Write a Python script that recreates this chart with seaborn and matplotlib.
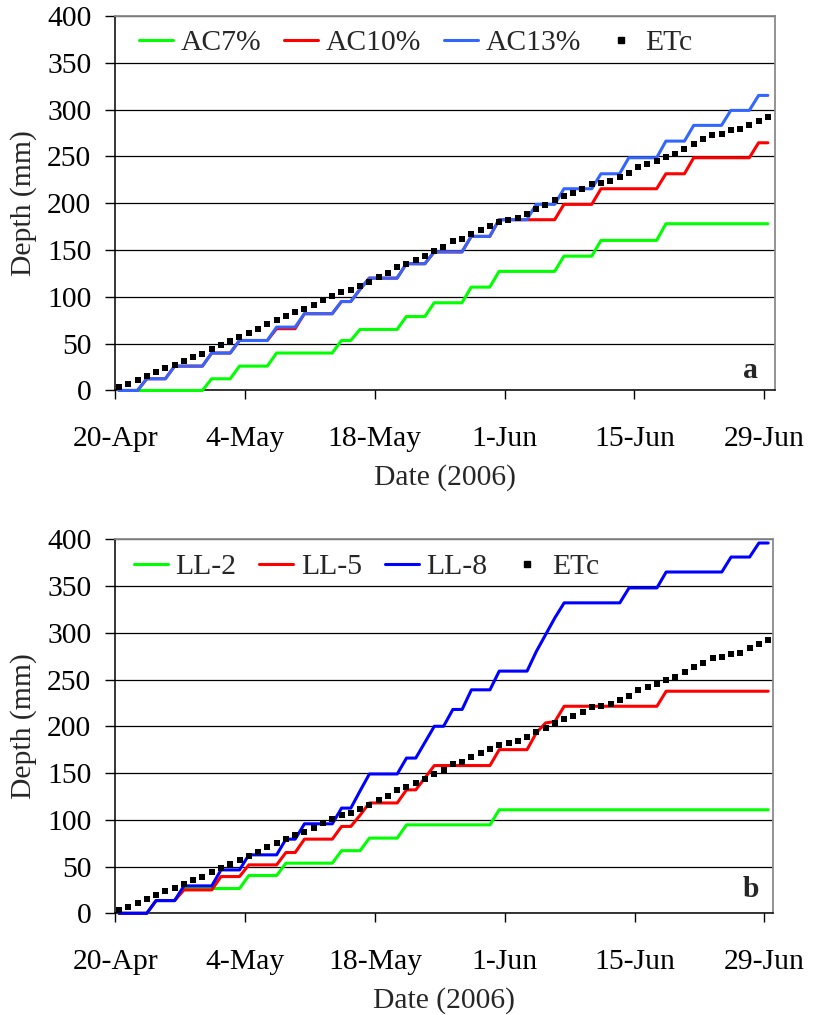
import numpy as np
import pandas as pd
import matplotlib
matplotlib.use("Agg")
import matplotlib.pyplot as plt
from matplotlib.lines import Line2D
import seaborn as sns

# ---- data -----------------------------------------------------------------
# Days after 20 April 2006 (daily records 0..70)
days = np.arange(71)
date_ticks = [0, 14, 28, 42, 56, 70]
date_labels = ["20-Apr", "4-May", "18-May", "1-Jun", "15-Jun", "29-Jun"]

# Cumulative crop evapotranspiration (mm), one value per day
etc = [3.6, 6.4, 10.7, 15.0, 19.6, 23.9, 26.7, 31.3, 36.0, 39.2, 43.8, 48.1,
       52.4, 57.0, 61.6, 65.9, 70.5, 74.8, 79.8, 83.7, 87.3, 91.5, 96.2, 100.8,
       105.0, 106.9, 111.5, 115.8, 121.1, 125.7, 131.8, 135.4, 139.6, 143.9,
       148.9, 153.2, 159.6, 162.1, 166.7, 171.0, 175.2, 179.9, 181.7, 184.5,
       188.8, 194.1, 198.4, 203.0, 207.3, 211.2, 215.5, 220.8, 222.0, 223.3,
       228.0, 232.2, 238.6, 242.2, 244.7, 249.3, 252.9, 258.2, 263.6, 268.2,
       273.2, 274.3, 277.8, 278.9, 283.2, 287.8, 292.4]

# Irrigation events: day of application and cumulative depth applied (mm)
ac7_days = [10, 13, 17, 24, 26, 31, 34, 38, 41, 48, 52, 59]
ac7_depth = [12.5, 26, 40, 53.4, 65.2, 79, 93.7, 110.4, 127.2, 143.5, 160.3, 178.1]

ac10_days = [3, 6, 10, 13, 17, 20, 24, 26, 27, 31, 34, 38, 41, 48, 52, 59, 62, 69]
ac10_depth = [12.5, 26, 40, 53.4, 66, 82, 95, 108, 120, 135.4, 148, 164.6,
              182.4, 198.8, 215.5, 231.5, 248.6, 264.6]

ac13_days = [3, 6, 10, 13, 17, 20, 24, 26, 27, 31, 34, 38, 41, 45, 48, 52, 55,
             59, 62, 66, 69]
ac13_depth = [12.5, 26, 40, 53.4, 67.7, 82, 95, 108, 120, 135.4, 148, 164.6,
              182.4, 198.8, 215.5, 231.5, 248.6, 266.4, 283.2, 299.2, 315.2]

ll2_days = [4, 7, 14, 18, 24, 27, 31, 41]
ll2_depth = [13.6, 26.5, 40.4, 53.6, 67, 80.4, 94.6, 110.7]

ll5_days = [4, 7, 11, 14, 18, 20, 24, 26, 27, 31, 33, 34, 41, 45, 46, 47, 48, 59]
ll5_depth = [13.6, 25, 39.3, 51.8, 65, 79.3, 92.9, 105, 118, 132, 145, 158,
             175, 193, 203.6, 205, 221.4, 237.5]

ll8_days = [4, 7, 11, 14, 18, 20, 24, 26, 27, 31, 33, 34, 36, 38, 41, 45, 46,
            47, 48, 55, 59, 66, 69]
ll8_depth = [13.6, 29.3, 46.4, 62.5, 79.3, 95.7, 112.5, 131, 149, 166, 183, 200,
             218, 239, 259, 280, 298, 316, 332, 348, 365, 381, 396]

names_a = ["AC7%", "AC10%", "AC13%"]
colors_a = ["#00FF00", "#FF0000", "#3366FF"]
names_b = ["LL-2", "LL-5", "LL-8"]
colors_b = ["#00FF00", "#FF0000", "#0000FF"]

# ---- style ----------------------------------------------------------------
sns.set_style("ticks")
FS = 21.3
plt.rcParams["font.family"] = ["Liberation Serif", "DejaVu Serif"]
plt.rcParams["font.size"] = FS

DAY_SHIFT = 0.4  # daily values sit inside the day interval


def cumulative(event_days, event_depth):
    """Daily cumulative depth from a list of irrigation events."""
    idx = np.searchsorted(event_days, days, side="right") - 1
    depth = np.asarray(event_depth, dtype=float)
    return np.where(idx >= 0, depth[np.clip(idx, 0, None)], 0.0)


def draw_panel(ax, names, colors, events, tag, tag_xy, xmax, leg_anchor):
    frames = []
    for name, (ev_d, ev_v) in zip(names, events):
        frames.append(pd.DataFrame({"day": days + DAY_SHIFT,
                                    "depth": cumulative(ev_d, ev_v),
                                    "treatment": name}))
    df = pd.concat(frames, ignore_index=True)
    sns.lineplot(data=df, x="day", y="depth", hue="treatment",
                 hue_order=names, palette=colors, linewidth=2.2,
                 estimator=None, sort=False, legend=False, ax=ax)
    sns.scatterplot(x=days + DAY_SHIFT, y=etc, marker="s", s=15,
                    color="black", linewidth=0, legend=False, ax=ax)
    # series sit above the frame so the zero-depth stretches stay visible
    for z, line in enumerate(ax.lines):
        line.set_clip_on(False)
        line.set_zorder(3 + 0.1 * z)
    for coll in ax.collections:
        coll.set_clip_on(False)
        coll.set_zorder(4)

    ax.set_xlim(0, xmax)
    ax.set_ylim(0, 400)
    ax.set_xticks(date_ticks)
    ax.set_xticklabels(date_labels)
    ax.set_yticks(np.arange(0, 401, 50))
    ax.yaxis.grid(True, color="black", linewidth=0.9)
    ax.xaxis.grid(False)
    ax.set_axisbelow(True)

    for side in ("left", "bottom"):
        ax.spines[side].set_color("black")
        ax.spines[side].set_linewidth(1.1)
    for side in ("top", "right"):
        ax.spines[side].set_visible(True)
        ax.spines[side].set_color("#8a8a8a")
        ax.spines[side].set_linewidth(1.3)

    ax.tick_params(axis="x", direction="out", length=6.5, width=1.0,
                   pad=19, colors="black", labelsize=FS, bottom=True)
    ax.tick_params(axis="y", direction="out", length=7.2, width=1.0,
                   pad=10, colors="black", labelsize=FS, left=True)

    ax.set_xlabel("Date (2006)", fontsize=FS, labelpad=9)
    ax.set_ylabel("Depth (mm)", fontsize=FS, labelpad=7)

    handles = [Line2D([], [], color=c, linewidth=2.2) for c in colors]
    handles.append(Line2D([], [], linestyle="none", marker="s",
                          markersize=3.9, color="black"))
    ax.legend(handles, names + ["ETc"], ncol=4, loc="center left",
              bbox_to_anchor=leg_anchor, frameon=False, fontsize=FS,
              handlelength=1.15, handletextpad=0.25, columnspacing=0.78,
              borderaxespad=0, borderpad=0)

    ax.text(tag_xy[0], tag_xy[1], tag, transform=ax.transAxes, ha="right",
            va="baseline", fontweight="bold", fontsize=FS)


fig = plt.figure(figsize=(8.17, 10.15), dpi=100)
ax_a = fig.add_axes([0.1411, 0.6153, 0.8075, 0.3689])
ax_b = fig.add_axes([0.1411, 0.1002, 0.8054, 0.3685])

draw_panel(ax_a, names_a, colors_a,
           [(ac7_days, ac7_depth), (ac10_days, ac10_depth),
            (ac13_days, ac13_depth)],
           "a", (0.974, 0.033), 71.17, (0.036, 0.928))
draw_panel(ax_b, names_b, colors_b,
           [(ll2_days, ll2_depth), (ll5_days, ll5_depth),
            (ll8_days, ll8_depth)],
           "b", (0.978, 0.044), 70.95, (0.028, 0.926))

fig.savefig("out.png", dpi=100)
